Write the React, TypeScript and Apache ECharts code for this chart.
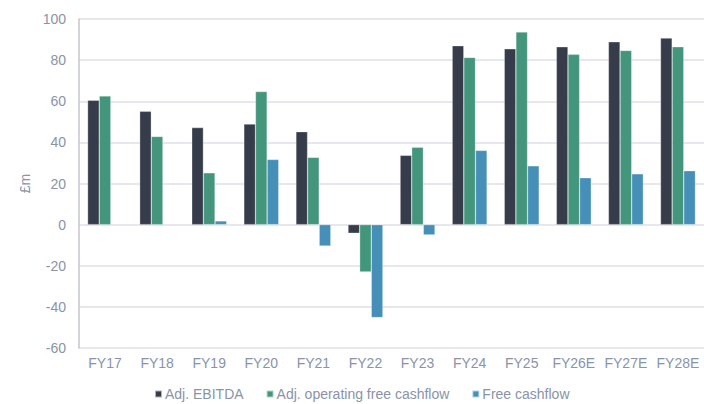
import React, { useEffect, useRef } from "react";
import * as echarts from "echarts";

const categories = ["FY17", "FY18", "FY19", "FY20", "FY21", "FY22", "FY23", "FY24", "FY25", "FY26E", "FY27E", "FY28E"];
const ebitda = [60.5, 55.1, 47.2, 48.9, 45.2, -4.2, 33.7, 87.0, 85.5, 86.5, 88.9, 90.7];
const opFcf = [62.6, 42.9, 25.2, 64.7, 32.7, -23.0, 37.6, 81.3, 93.7, 82.8, 84.7, 86.5];
const fcf = [null, null, 1.8, 31.7, -10.4, -45.2, -5.0, 36.1, 28.6, 22.8, 24.7, 26.2];
const seriesNames = ["Adj. EBITDA", "Adj. operating free cashflow", "Free cashflow"];
const colors = ["#363c4a", "#43957b", "#468fb8"];

export default function App() {
  const ref = useRef<HTMLDivElement>(null);
  useEffect(() => {
    document.body.style.margin = "0";
    const chart = echarts.init(ref.current!, null, { renderer: "svg" });
    const textColor = "#8a93a8";
    const font = "'Liberation Sans', Arial, sans-serif";
    const data = [ebitda, opFcf, fcf];
    chart.setOption({
      animation: false,
      textStyle: { fontFamily: font },
      grid: { left: 79, top: 19, width: 631, height: 329 },
      legend: {
        data: seriesNames,
        left: 154,
        top: 386,
        padding: 0,
        itemWidth: 7,
        itemHeight: 7,
        itemGap: 22,
        icon: "rect",
        textStyle: { color: textColor, fontSize: 14, lineHeight: 16, fontFamily: font, padding: [0, 0, 0, -2] },
      },
      xAxis: {
        type: "category",
        data: categories,
        axisLine: { show: false },
        axisTick: { show: false },
        axisLabel: { color: textColor, fontSize: 14, margin: 8, fontFamily: font, interval: 0 },
      },
      yAxis: {
        type: "value",
        min: -60,
        max: 100,
        interval: 20,
        name: "£m",
        nameLocation: "middle",
        nameGap: 47,
        nameTextStyle: { color: textColor, fontSize: 14, fontFamily: font },
        axisLine: { show: true, lineStyle: { color: "#c3c6cc", width: 1.5 } },
        axisTick: { show: false },
        axisLabel: { color: textColor, fontSize: 14, margin: 13, fontFamily: font },
        splitLine: { lineStyle: { color: "#dfe1e7", width: 1.5 } },
      },
      series: seriesNames.map((name, i) => ({
        name,
        type: "bar",
        data: data[i],
        barGap: "0%",
        barCategoryGap: "33%",
        itemStyle: { color: colors[i], borderColor: "rgba(255,255,255,0.6)", borderWidth: 0.5 },
      })),
    });
    return () => chart.dispose();
  }, []);
  return <div ref={ref} style={{ width: 704, height: 404 }} />;
}
